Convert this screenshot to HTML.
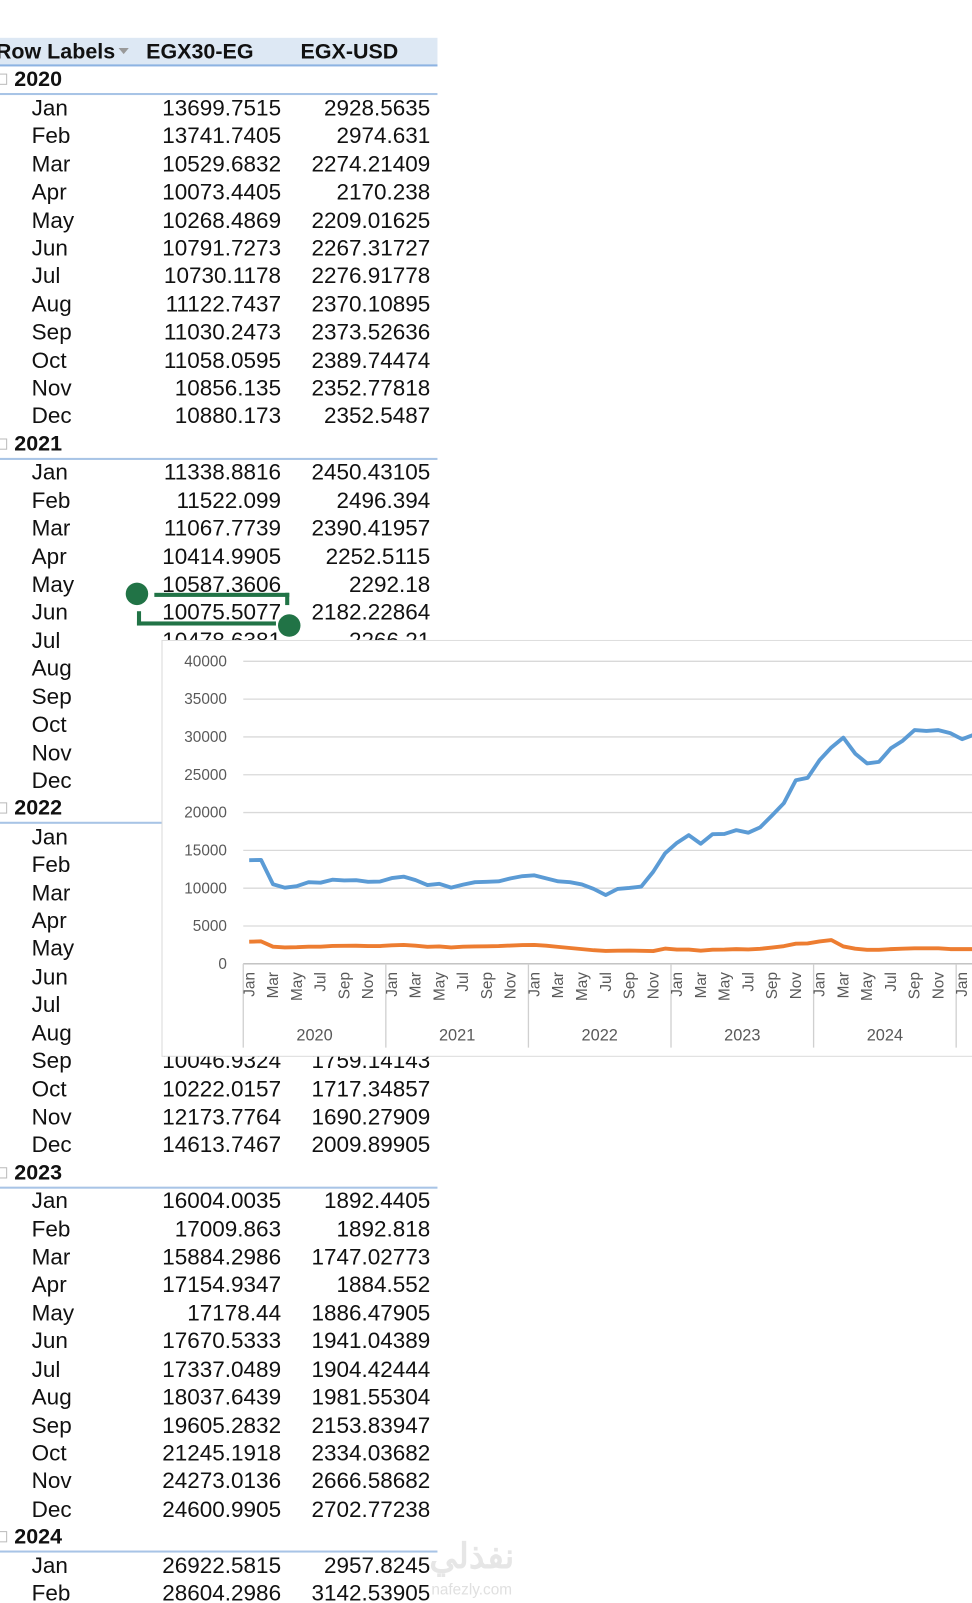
<!DOCTYPE html>
<html><head><meta charset="utf-8">
<style>
html,body{margin:0;padding:0;background:#fff;overflow:hidden}
body{width:972px;height:1603px;position:relative}
#wrap{position:absolute;left:0;top:0;width:951px;height:1568px;transform:scale(1.0221);transform-origin:0 0;font-family:"Liberation Sans",Arial,sans-serif;color:#111}
.t{position:absolute;font-size:22px;line-height:24px;white-space:nowrap}
.h{font-size:21px}
.r{text-align:right}
.b{font-weight:bold}
</style></head>
<body>
<div id="wrap">
  <div style="position:absolute;left:0;top:37px;width:428px;height:26px;background:#dde8f4;border-bottom:2px solid #8db3e2"></div>
  <div class="t b h" style="left:-4px;top:39px">Row Labels</div>
  <div style="position:absolute;left:116px;top:47px;width:0;height:0;border-left:5px solid transparent;border-right:5px solid transparent;border-top:6px solid #999"></div>
  <div class="t b h" style="left:143px;top:39px">EGX30-EG</div>
  <div class="t b h" style="left:294px;top:39px">EGX-USD</div>
  <div id="rows"></div>

  <div style="position:absolute;left:134px;top:580px;width:149px;height:32px;border:none">
    <div style="position:absolute;left:17px;top:0;width:132px;height:4px;background:#217346"></div>
    <div style="position:absolute;left:145px;top:0;width:4px;height:12px;background:#217346"></div>
    <div style="position:absolute;left:0;top:28px;width:136px;height:4px;background:#217346"></div>
    <div style="position:absolute;left:0;top:18px;width:4px;height:14px;background:#217346"></div>
  </div>
  <div style="position:absolute;left:123px;top:570px;width:22px;height:22px;border-radius:50%;background:#217346"></div>
  <div style="position:absolute;left:272px;top:601px;width:22px;height:22px;border-radius:50%;background:#217346"></div>

  <svg id="chart" style="position:absolute;left:158px;top:626px" width="800" height="408"></svg>

  <div style="position:absolute;left:420px;top:1503px;font-size:34px;color:#e6e6e6;font-family:'Liberation Sans','Noto Sans CJK SC',sans-serif;font-weight:bold">نفذلي</div>
  <div style="position:absolute;left:422px;top:1547px;font-size:15px;color:#e0e0e0">nafezly.com</div>
</div>
<script>
const months=["Jan","Feb","Mar","Apr","May","Jun","Jul","Aug","Sep","Oct","Nov","Dec"];
const years=["2020","2021","2022","2023","2024"];
const egx30=[13699.7515,13741.7405,10529.6832,10073.4405,10268.4869,10791.7273,10730.1178,11122.7437,11030.2473,11058.0595,10856.135,10880.173,
11338.8816,11522.099,11067.7739,10414.9905,10587.3606,10075.5077,10478.6381,10800,10850,10900,11300,11600,
11700,11300,10900,10800,10500,9900,9100,9900,10046.9324,10222.0157,12173.7764,14613.7467,
16004.0035,17009.863,15884.2986,17154.9347,17178.44,17670.5333,17337.0489,18037.6439,19605.2832,21245.1918,24273.0136,24600.9905,
26922.5815,28604.2986,29900,27800,26500,26700,28500,29500,30900,30800,30900,30500,
29700,30300];
const egxusd=[2928.5635,2974.631,2274.21409,2170.238,2209.01625,2267.31727,2276.91778,2370.10895,2373.52636,2389.74474,2352.77818,2352.5487,
2450.43105,2496.394,2390.41957,2252.5115,2292.18,2182.22864,2266.21,2300,2320,2350,2420,2480,
2500,2400,2250,2100,1950,1800,1700,1750,1759.14143,1717.34857,1690.27909,2009.89905,
1892.4405,1892.818,1747.02773,1884.552,1886.47905,1941.04389,1904.42444,1981.55304,2153.83947,2334.03682,2666.58682,2702.77238,
2957.8245,3142.53905,2300,2000,1850,1850,1950,2000,2050,2050,2050,1950,
1950,1950];
const yTicks=[0,5000,10000,15000,20000,25000,30000,35000,40000];
const axisYears=["2020","2021","2022","2023","2024","2025"];

const rows=document.getElementById('rows');
const ROW0=51, PITCH=27.42;
function fmt(v){return String(v);}
let idx=1;
for(let yi=0;yi<years.length;yi++){
  const yTop=ROW0+PITCH*idx-12;
  const yr=document.createElement('div');
  yr.className='t b h';
  yr.style.left='14px';yr.style.top=yTop+'px';
  yr.textContent=years[yi];
  
  
  rows.appendChild(yr);
  const bx=document.createElement('div');
  bx.style.cssText='position:absolute;left:-4px;top:'+(yTop+6)+'px;width:9px;height:9px;border:1px solid #bbb';
  
  
  rows.appendChild(bx);
  const ln=document.createElement('div');
  ln.style.cssText='position:absolute;left:0;top:'+(yTop+25)+'px;width:428px;height:2px;background:#a8c4e6';
  
  
  rows.appendChild(ln);
  idx++;
  for(let m=0;m<12;m++){
    const k=yi*12+m;
    if(yi===4&&m>1)break;
    const top=ROW0+PITCH*idx-12;
    const ml=document.createElement('div');
    ml.className='t';ml.style.left='31px';ml.style.top=top+'px';ml.textContent=months[m];
    
    
    rows.appendChild(ml);
    const a=document.createElement('div');
    a.className='t r';a.style.right=(951-275)+'px';a.style.top=top+'px';a.textContent=fmt(egx30[k]);
    
    
    rows.appendChild(a);
    const b=document.createElement('div');
    b.className='t r';b.style.right=(951-421)+'px';b.style.top=top+'px';b.textContent=fmt(egxusd[k]);
    
    
    rows.appendChild(b);
    idx++;
  }
}

const NS='http://www.w3.org/2000/svg';
const svg=document.getElementById('chart');
function el(t,a){const e=document.createElementNS(NS,t);for(const k in a)e.setAttribute(k,a[k]);svg.appendChild(e);return e;}
const bg=el('rect',{x:0.5,y:0.5,width:820,height:407,fill:'#fff',stroke:'#d9d9d9'});


const X0=80, Y0=317, PX_PER=296/40000, MONTH=139.5/12;
function yS(v){return Y0-v*PX_PER;}
function xS(i){return X0+MONTH*(i+0.5);}
for(const t of yTicks){
  const g=el('line',{x1:X0,x2:820,y1:yS(t),y2:yS(t),stroke:'#d9d9d9','stroke-width':1.3});
  
  
  const tx=el('text',{x:64,y:yS(t)+5,'text-anchor':'end','font-size':15,fill:'#595959','font-family':'Liberation Sans, Arial, sans-serif'});
  tx.textContent=t;
  
  
}
const ax=el('line',{x1:X0,x2:820,y1:Y0,y2:Y0,stroke:'#bfbfbf','stroke-width':1.3});


for(let y=0;y<axisYears.length;y++){
  const xb=X0+139.5*y;
  const d=el('line',{x1:xb,x2:xb,y1:Y0,y2:Y0+82,stroke:'#d0d0d0','stroke-width':1.3});
  
  
  const yl=el('text',{x:xb+69.75,y:Y0+75,'text-anchor':'middle','font-size':16,fill:'#595959','font-family':'Liberation Sans, Arial, sans-serif'});
  yl.textContent=axisYears[y];
  
  
  for(let m=0;m<12;m+=2){
    const i=y*12+m;
    const xx=xS(i)+5;
    const ml=el('text',{x:0,y:0,'text-anchor':'end','font-size':15,fill:'#595959','font-family':'Liberation Sans, Arial, sans-serif',transform:'translate('+xx+','+(Y0+8)+') rotate(-90)'});
    ml.textContent=months[m];
    
    
  }
}
function path(vals){return vals.map((v,i)=>(i?'L':'M')+xS(i).toFixed(1)+','+yS(v).toFixed(1)).join(' ');}
const l1=el('path',{d:path(egx30),fill:'none',stroke:'#5b9bd5','stroke-width':3.8,'stroke-linejoin':'round'});


const l2=el('path',{d:path(egxusd),fill:'none',stroke:'#ed7d31','stroke-width':3.8,'stroke-linejoin':'round'});


</script>
</body></html>
